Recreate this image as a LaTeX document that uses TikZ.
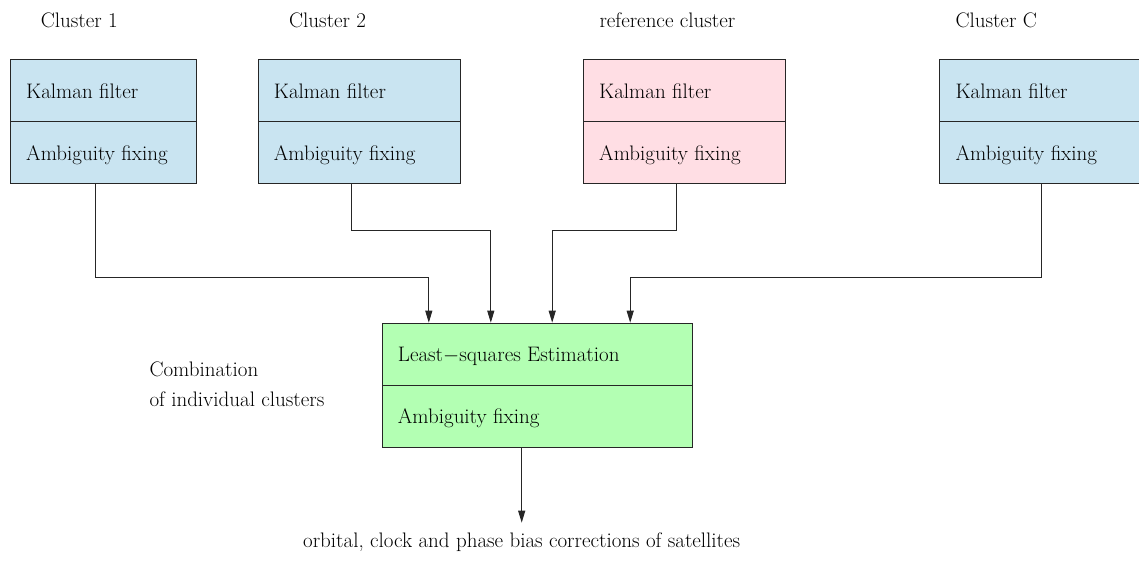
\documentclass[tikz,border=0pt]{standalone}
\usetikzlibrary{arrows.meta}
\definecolor{boxblue}{RGB}{201,228,241}
\definecolor{boxpink}{RGB}{255,222,228}
\definecolor{boxgreen}{RGB}{179,255,179}
\begin{document}
\begin{tikzpicture}[x=1pt,y=-1pt,
  font=\fontsize{21}{25}\selectfont,
  part/.style={draw=black!85, line width=1pt, anchor=north west, inner sep=0pt, minimum height=62pt},
  lbl/.style={anchor=west, inner sep=0pt, text height=20pt, text depth=4pt},
  txt/.style={anchor=base west, inner sep=0pt},
  arr/.style={draw=black!85, line width=1pt, -{Triangle[length=12pt,width=7pt]}}]
\useasboundingbox (0,0) rectangle (1139,562);
% cluster titles
\node[txt] (t1) at (40.7,27.3) {Cluster 1};
\node[txt] (t2) at (289,27.3) {Cluster 2};
\node[txt] (tr) at (599.3,27.3) {reference cluster};
\node[txt] (tc) at (955.3,27.3) {Cluster C};
% cluster 1
\node[part, fill=boxblue, minimum width=186pt] (k1) at (10,59.3) {};
\node[part, fill=boxblue, minimum width=186pt] (a1) at (10,121.3) {};
\node[lbl] (k1t) at ([xshift=16pt]k1.west) {Kalman filter};
\node[lbl] (a1t) at ([xshift=16pt]a1.west) {Ambiguity fixing};
% cluster 2
\node[part, fill=boxblue, minimum width=202pt] (k2) at (257.7,59.3) {};
\node[part, fill=boxblue, minimum width=202pt] (a2) at (257.7,121.3) {};
\node[lbl] (k2t) at ([xshift=16pt]k2.west) {Kalman filter};
\node[lbl] (a2t) at ([xshift=16pt]a2.west) {Ambiguity fixing};
% reference cluster
\node[part, fill=boxpink, minimum width=201.7pt] (kr) at (583,59.3) {};
\node[part, fill=boxpink, minimum width=201.7pt] (ar) at (583,121.3) {};
\node[lbl] (krt) at ([xshift=16pt]kr.west) {Kalman filter};
\node[lbl] (art) at ([xshift=16pt]ar.west) {Ambiguity fixing};
% cluster C
\node[part, fill=boxblue, minimum width=218.7pt] (kc) at (939.3,59.3) {};
\node[part, fill=boxblue, minimum width=218.7pt] (ac) at (939.3,121.3) {};
\node[lbl] (kct) at ([xshift=16pt]kc.west) {Kalman filter};
\node[lbl] (act) at ([xshift=16pt]ac.west) {Ambiguity fixing};
% combination
\node[part, fill=boxgreen, minimum width=310pt] (g1) at (381.7,322.7) {};
\node[part, fill=boxgreen, minimum width=310pt] (g2) at (381.7,384.7) {};
\node[lbl, text height=20pt, text depth=5.5pt] (g1t) at ([xshift=16pt]g1.west) {Least$-$squares Estimation};
\node[lbl, text height=20pt, text depth=5.5pt] (g2t) at ([xshift=16pt]g2.west) {Ambiguity fixing};
\node[txt] (cm1) at (149.3,376) {Combination};
\node[txt] (cm2) at (149.3,406.7) {of individual clusters};
% connectors
\draw[arr] ([xshift=-7.7pt]a1.south) -- ++(0,92.7) -| ([xshift=-108.4pt]g1.north);
\draw[arr] ([xshift=-8pt]a2.south) -- ++(0,46.4) -| ([xshift=-46.4pt]g1.north);
\draw[arr] ([xshift=-7.6pt]ar.south) -- ++(0,46.4) -| ([xshift=15pt]g1.north);
\draw[arr] ([xshift=-8pt]ac.south) -- ++(0,92.7) -| ([xshift=93pt]g1.north);
% output
\node[anchor=base, inner sep=0pt] (out) at (521.7,547) {orbital, clock and phase bias corrections of satellites};
\coordinate (outc) at (521.7,522.7);
\draw[arr] (outc |- g2.south) -- (outc);
\end{tikzpicture}
\end{document}
